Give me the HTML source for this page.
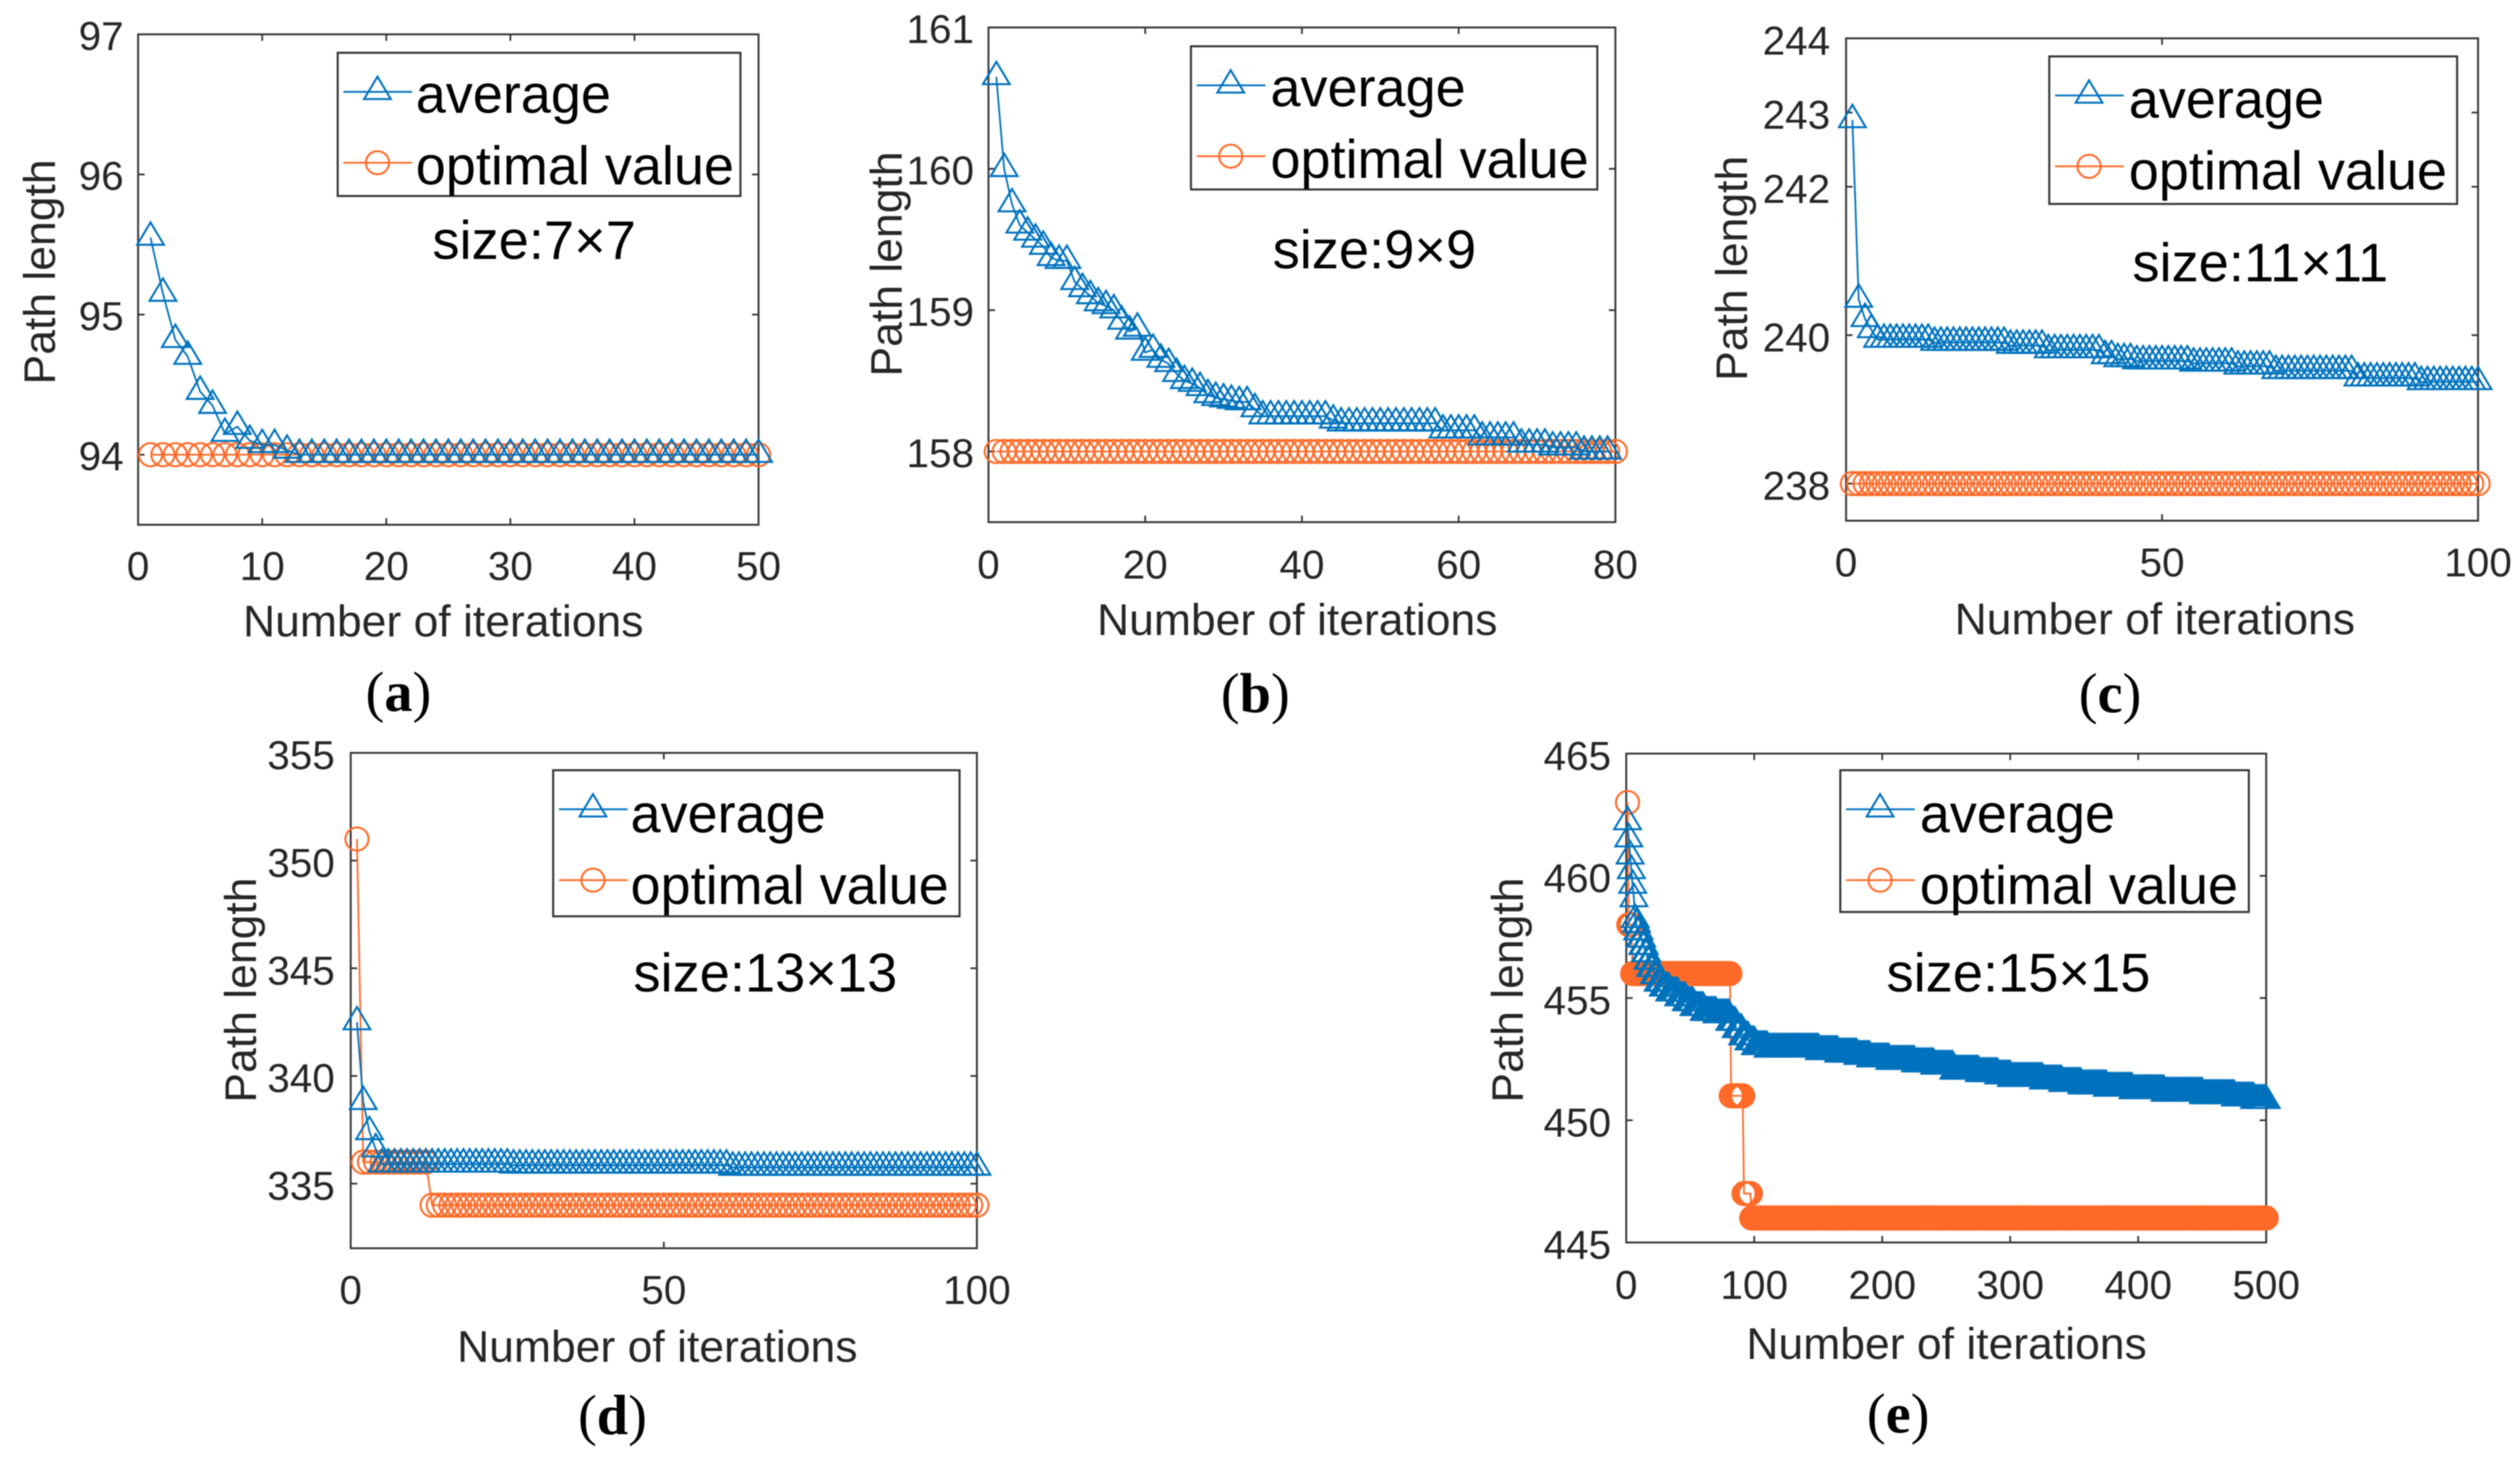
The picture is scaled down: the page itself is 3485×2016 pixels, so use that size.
<!DOCTYPE html>
<html>
<head>
<meta charset="utf-8">
<title>Path length convergence charts</title>
<style>
html,body{margin:0;padding:0;background:#fff;width:3485px;height:2016px;overflow:hidden}
svg{display:block;font-family:"Liberation Sans",sans-serif;filter:blur(0.7px)}
</style>
</head>
<body>
<svg id="figure" xmlns="http://www.w3.org/2000/svg" width="3485" height="2016" viewBox="0 0 3485 2016"></svg>
<script>
// ---- data: each series is stored as step values + how many iterations each value holds ----
const aAverageValues = [95.55,95.15,94.82,94.7,94.45,94.35,94.15,94.2,94.1,94.07,94.07,94.03,94];
const aAverageRuns   = [1,1,1,1,1,1,1,1,1,1,1,1,38];
const aOptimalValues = [94];
const aOptimalRuns   = [50];
const aXTicks = [0,10,20,30,40,50];
const aYTicks = [94,95,96,97];

const bAverageValues = [160.65,160,159.75,159.6,159.55,159.5,159.45,159.37,159.35,159.35,159.2,159.15,159.1,159.05,159.03,159,158.92,158.85,158.87,158.7,158.72,158.65,158.62,158.55,158.5,158.48,158.45,158.4,158.38,158.37,158.36,158.35,158.35,158.3,158.25,158.22,158.2,158.15,158.1,158.05,158.03,158];
const bAverageRuns   = [1,1,1,1,1,1,1,1,1,1,1,1,1,1,1,1,1,1,1,1,1,1,1,1,1,1,1,1,1,1,1,1,1,1,9,1,13,5,5,4,4,4];
const bOptimalValues = [158];
const bOptimalRuns   = [80];
const bXTicks = [0,20,40,60,80];
const bYTicks = [158,159,160,161];

const cAverageValues = [242.9,240.48,240.22,240.07,239.94,239.9,239.86,239.8,239.72,239.68,239.65,239.62,239.58,239.52,239.42,239.37];
const cAverageRuns   = [1,1,1,1,9,12,6,9,2,3,9,7,6,13,10,10];
const cOptimalValues = [238];
const cOptimalRuns   = [100];
const cXTicks = [0,50,100];
const cYTicks = [238,240,242,243,244];

const dAverageValues = [342.5,338.8,337.4,336.6,335.9,335.85,335.75];
const dAverageRuns   = [1,1,1,1,21,35,40];
const dOptimalValues = [351,336,334];
const dOptimalRuns   = [1,11,88];
const dXTicks = [0,50,100];
const dYTicks = [335,340,345,350,355];

const eAverageValues = [462.2,461.5,460.8,460.2,459.6,459.05,458.2,458,457.7,457.4,457.1,456.8,456.5,456.2,455.9,455.6,455.4,455.2,455,454.8,454.6,454.4,454.3,454,453.7,453.4,453.2,453,452.9,452.8,452.7,452.6,452.5,452.4,452.3,452.2,452,451.9,451.8,451.7,451.6,451.5,451.4,451.3,451.2,451.1,451,450.9,450.8];
const eAverageRuns   = [1,1,1,1,1,1,1,1,2,2,2,2,2,3,3,4,5,7,6,6,8,10,10,5,5,5,5,10,40,15,15,10,15,20,15,15,20,15,10,25,15,15,20,20,25,30,25,15,10];
const eOptimalValues = [463,458,456,451,447,446];
const eOptimalRuns   = [1,3,77,10,6,403];
const eXTicks = [0,100,200,300,400,500];
const eYTicks = [445,450,455,460,465];

const seriesNames = ["average","optimal value"];
const xAxisTitle = "Number of iterations";
const yAxisTitle = "Path length";

// ---- layout ----
const panels = [
 {id:"a",size:"size:7×7",L:191,R:1049,T:47.5,B:725.6,xMax:50,yMin:93.5,yMax:97,avg:[aAverageValues,aAverageRuns],opt:[aOptimalValues,aOptimalRuns],xt:aXTicks,yt:aYTicks,
  nudge:2,tickBase:802,xtX:613,xtY:880,ytX:76,ytY:376,yr:171,leg:[467,73,557,198],legTx:575,legDy:0,sx:598,sy:358,capX:551,capY:983},
 {id:"b",size:"size:9×9",L:1367,R:2234,T:38,B:722,xMax:80,yMin:157.5,yMax:161,avg:[bAverageValues,bAverageRuns],opt:[bOptimalValues,bOptimalRuns],xt:bXTicks,yt:bYTicks,
  nudge:2,tickBase:800,xtX:1794,xtY:878,ytX:1247,ytY:365,yr:1347,leg:[1647,64,562,198],legTx:1757,legDy:0,sx:1760,sy:371,capX:1736,capY:985},
 {id:"c",size:"size:11×11",L:2553,R:3427,T:53,B:720,xMax:100,yMin:237.5,yMax:244,avg:[cAverageValues,cAverageRuns],opt:[cOptimalValues,cOptimalRuns],xt:cXTicks,yt:cYTicks,
  nudge:3,tickBase:797,xtX:2980,xtY:877,ytX:2416,ytY:371,yr:2531,leg:[2834,78,564,204],legTx:2944,legDy:2,sx:2949,sy:389,capX:2918,capY:985},
 {id:"d",size:"size:13×13",L:485,R:1351,T:1041,B:1726,xMax:100,yMin:332,yMax:355,avg:[dAverageValues,dAverageRuns],opt:[dOptimalValues,dOptimalRuns],xt:dXTicks,yt:dYTicks,
  nudge:3,tickBase:1803,xtX:909,xtY:1883,ytX:354,ytY:1369,yr:463,leg:[765,1065,562,202],legTx:872,legDy:3,sx:876,sy:1371,capX:847,capY:1983},
 {id:"e",size:"size:15×15",L:2249,R:3134,T:1042,B:1718,xMax:500,yMin:445,yMax:465,avg:[eAverageValues,eAverageRuns],opt:[eOptimalValues,eOptimalRuns],xt:eXTicks,yt:eYTicks,
  nudge:3,tickBase:1796,xtX:2692,xtY:1879,ytX:2106,ytY:1369,yr:2228,leg:[2545,1065,565,196],legTx:2655,legDy:3,sx:2609,sy:1371,capX:2625,capY:1981}
];
const BLUE="#0072bd", ORANGE="#ff6a28", AXIS="#333333", LABEL="#262626";
const NS="http://www.w3.org/2000/svg";
const root=document.getElementById("figure");

function make(parent,tag,attrs,text){
  const el=document.createElementNS(NS,tag);
  for(const k in attrs) el.setAttribute(k,attrs[k]);
  if(text!==undefined) el.textContent=text;
  parent.appendChild(el);
  return el;
}
function expand(values,runs){
  const out=[];
  values.forEach((v,i)=>{for(let n=0;n<runs[i];n++) out.push(v);});
  return out;
}
function triPoints(cx,cy){
  return (cx)+","+(cy-21)+" "+(cx+18.5)+","+(cy+10)+" "+(cx-18.5)+","+(cy+10);
}
function drawSeries(g,vals,xs,ys,color,kind,name){
  const s=make(g,"g",{});
  
  
  const pts=vals.map((v,i)=>xs(i+1)+","+ys(v)).join(" ");
  const line=make(s,"polyline",{points:pts,fill:"none",stroke:color,"stroke-width":2.4});
  
  
  vals.forEach((v,i)=>{
    let m;
    if(kind==="tri") m=make(s,"polygon",{points:triPoints(xs(i+1),ys(v)),fill:"none",stroke:color,"stroke-width":2.8});
    else m=make(s,"circle",{cx:xs(i+1),cy:ys(v),r:16,fill:"none",stroke:color,"stroke-width":2.8});
    
    
  });
}
panels.forEach(p=>{
  const g=make(root,"g",{});
  
  
  const xs=v=>p.L+(v/p.xMax)*(p.R-p.L);
  const ys=v=>p.B-((v-p.yMin)/(p.yMax-p.yMin))*(p.B-p.T);

  const frame=make(g,"rect",{x:p.L,y:p.T,width:p.R-p.L,height:p.B-p.T,fill:"#fff",stroke:AXIS,"stroke-width":2.6});
  
  

  p.xt.forEach(t=>{
    const x=xs(t);
    if(t!==0&&t!==p.xMax){
      make(g,"line",{x1:x,x2:x,y1:p.B,y2:p.B-9,stroke:AXIS,"stroke-width":2.4});
      make(g,"line",{x1:x,x2:x,y1:p.T,y2:p.T+9,stroke:AXIS,"stroke-width":2.4});
    }
    const lab=make(g,"text",{x:x,y:p.tickBase,"font-size":56,fill:LABEL,"text-anchor":"middle"},String(t));
    
    
  });
  p.yt.forEach(t=>{
    const y=ys(t);
    if(t!==p.yMin&&t!==p.yMax){
      make(g,"line",{x1:p.L,x2:p.L+9,y1:y,y2:y,stroke:AXIS,"stroke-width":2.4});
      make(g,"line",{x1:p.R,x2:p.R-9,y1:y,y2:y,stroke:AXIS,"stroke-width":2.4});
    }
    const lab=make(g,"text",{x:p.yr,y:y+19.5+p.nudge,"font-size":56,fill:LABEL,"text-anchor":"end"},String(t));
    
    
  });

  drawSeries(g,expand(p.opt[0],p.opt[1]),xs,ys,ORANGE,"circ","optimal-value-series");
  drawSeries(g,expand(p.avg[0],p.avg[1]),xs,ys,BLUE,"tri","average-series");

  const xt=make(g,"text",{x:p.xtX,y:p.xtY,"font-size":61.5,fill:LABEL,"text-anchor":"middle"},xAxisTitle);
  
  
  const yt=make(g,"text",{x:p.ytX,y:p.ytY,"font-size":61.5,fill:LABEL,"text-anchor":"middle",transform:"rotate(-90 "+p.ytX+" "+p.ytY+")"},yAxisTitle);
  
  

  // legend
  const [lx,ly,lw,lh]=p.leg;
  const leg=make(g,"g",{});
  
  
  make(leg,"rect",{x:lx,y:ly,width:lw,height:lh,fill:"#fff",stroke:AXIS,"stroke-width":2.8});
  const row1=ly+54, row2=ly+152;
  make(leg,"line",{x1:lx+8,x2:lx+103,y1:row1,y2:row1,stroke:BLUE,"stroke-width":2.4});
  make(leg,"polygon",{points:triPoints(lx+55,row1),fill:"none",stroke:BLUE,"stroke-width":2.8});
  make(leg,"line",{x1:lx+8,x2:lx+103,y1:row2,y2:row2,stroke:ORANGE,"stroke-width":2.4});
  make(leg,"circle",{cx:lx+55,cy:row2,r:16,fill:"none",stroke:ORANGE,"stroke-width":2.8});
  const e1=make(leg,"text",{x:p.legTx,y:ly+83+p.legDy,"font-size":74.7,fill:"#000"},seriesNames[0]);
  
  
  const e2=make(leg,"text",{x:p.legTx,y:ly+182+p.legDy,"font-size":74.7,fill:"#000"},seriesNames[1]);
  
  

  const sz=make(g,"text",{x:p.sx,y:p.sy,"font-size":75,fill:"#000"},p.size);
  
  

  const cap=make(g,"text",{x:p.capX,y:p.capY,"font-size":78,fill:"#000","text-anchor":"middle","font-family":"\"Liberation Serif\",serif"});
  
  
  make(cap,"tspan",{},"(");
  make(cap,"tspan",{"font-weight":"bold"},p.id);
  make(cap,"tspan",{},")");
});
</script>
</body>
</html>
